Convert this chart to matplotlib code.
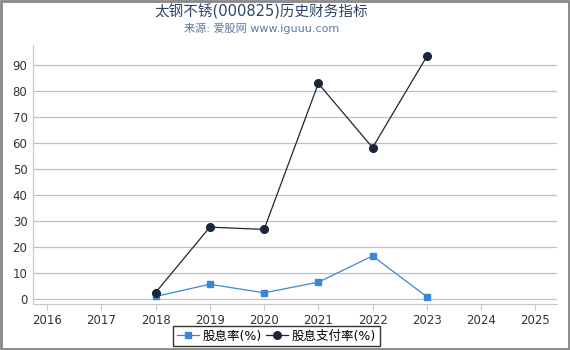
import matplotlib
matplotlib.use("Agg")
import matplotlib.pyplot as plt
from matplotlib.patches import Rectangle

plt.rcParams['font.family'] = ['DejaVu Sans', 'Noto Sans CJK SC']

years = [2016, 2017, 2018, 2019, 2020, 2021, 2022, 2023, 2024, 2025]
data_years = [2018, 2019, 2020, 2021, 2022, 2023]
dividend_yield = [0.9, 5.6, 2.3, 6.4, 16.5, 0.8]
payout_ratio = [2.4, 27.6, 26.7, 82.9, 58.2, 93.3]
yticks = [0, 10, 20, 30, 40, 50, 60, 70, 80, 90]

fig = plt.figure(figsize=(5.7, 3.5), dpi=100)
ax = fig.add_axes([33 / 570, 1 - 304 / 350, (557 - 33) / 570, (304 - 45) / 350])

ax.plot(data_years, dividend_yield, color="#3a86d8", marker="s", markersize=5,
        linewidth=0.9, label="股息率(%)", zorder=3)
ax.plot(data_years, payout_ratio, color="#1b2638", marker="o", markersize=5.5,
        linewidth=0.9, label="股息支付率(%)", zorder=3)

ax.set_xlim(2015.74, 2025.4)
ax.set_ylim(-2, 97.7)
ax.set_xticks(years)
ax.set_yticks(yticks)
ax.grid(axis="y", color="#c0c0c0", linewidth=0.9)
ax.set_axisbelow(True)
for side in ["top", "right"]:
    ax.spines[side].set_visible(False)
for side in ["left", "bottom"]:
    ax.spines[side].set_color("#c8c8c8")
ax.tick_params(axis="y", length=0, labelsize=8.5, colors="#333333", pad=4)
ax.tick_params(axis="x", length=4, color="#c8c8c8", labelsize=8.5, colors="#333333")

fig.text(0.459, 0.966, "太钢不锈(000825)历史财务指标", ha="center", va="center",
         fontsize=10.5, color="#2c4466")
fig.text(0.459, 0.918, "来源: 爱股网 www.iguuu.com", ha="center", va="center",
         fontsize=8, color="#5b7ba0")

leg = fig.legend(loc="center", bbox_to_anchor=(0.485, 0.04), ncol=2, fontsize=9,
                 frameon=True, fancybox=False, edgecolor="black", handlelength=1.8,
                 columnspacing=0.3, handletextpad=0.3, borderpad=0.3)
leg.get_frame().set_linewidth(1)

fig.add_artist(Rectangle((0.001, 0.002), 0.997, 0.996, transform=fig.transFigure,
                         fill=False, edgecolor="#888888", linewidth=2))

fig.savefig("out.png", dpi=100)
